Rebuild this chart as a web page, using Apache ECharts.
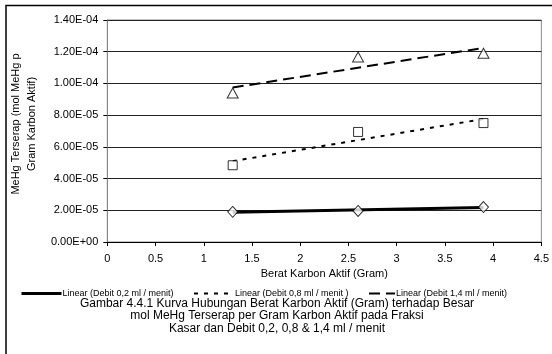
<!DOCTYPE html>
<html>
<head>
<meta charset="utf-8">
<script src="https://cdn.jsdelivr.net/npm/echarts@6/dist/echarts.min.js"></script>
<style>
  html, body { margin: 0; padding: 0; background: #fff; }
  #chart { width: 552px; height: 354px; }
</style>
</head>
<body>
<div id="chart"></div>
<script>
// Berat karbon aktif (gram)
const beratKarbon = [1.3, 2.6, 3.9];
// mol MeHg terserap per gram karbon aktif, per debit aliran
const debit02 = [1.90e-5, 1.96e-5, 2.20e-5];
const debit08 = [4.84e-5, 6.94e-5, 7.50e-5];
const debit14 = [9.40e-5, 1.167e-4, 1.19e-4];

const seriesNames = ['Debit 0,2 ml / menit', 'Debit 0,8 ml / menit', 'Debit 1,4 ml / menit'];
const trendNames = ['Linear (Debit 0,2 ml / menit)', 'Linear (Debit 0,8 ml / menit )', 'Linear (Debit 1,4 ml / menit)'];

const yTickLabels = ['0.00E+00', '2.00E-05', '4.00E-05', '6.00E-05', '8.00E-05', '1.00E-04', '1.20E-04', '1.40E-04'];
const xTickLabels = ['0', '0.5', '1', '1.5', '2', '2.5', '3', '3.5', '4', '4.5'];

const FONT = '"Liberation Sans", Arial, sans-serif';

// least-squares line through the points, drawn across the data range
function linearFit(xs, ys) {
  const n = xs.length;
  const mx = xs.reduce((a, b) => a + b, 0) / n;
  const my = ys.reduce((a, b) => a + b, 0) / n;
  let sxy = 0, sxx = 0;
  for (let i = 0; i < n; i++) {
    sxy += (xs[i] - mx) * (ys[i] - my);
    sxx += (xs[i] - mx) * (xs[i] - mx);
  }
  const b = sxy / sxx, a = my - b * mx;
  const x0 = Math.min(...xs), x1 = Math.max(...xs);
  return [[x0, a + b * x0], [x1, a + b * x1]];
}

const pts = (ys) => beratKarbon.map((x, i) => [x, ys[i]]);

const chart = echarts.init(document.getElementById('chart'), null, { renderer: 'canvas' });

const markerStyle = { color: '#fff', borderColor: '#000', borderWidth: 1 };

const trendStyles = [
  { color: '#000', width: 3, type: 'solid' },
  { color: '#000', width: 2, type: [4, 6] },
  { color: '#000', width: 2, type: [11, 6] }
];

function legendFor(i, left, iconWidth) {
  return {
    data: [trendNames[i]], left: left, top: 289, padding: 0,
    itemWidth: iconWidth, itemHeight: 10, itemGap: 0,
    itemStyle: { opacity: 0 },
    lineStyle: { type: trendStyles[i].type, width: trendStyles[i].width, color: '#000' },
    textStyle: { fontFamily: FONT, fontSize: 9, color: '#000', padding: [0, 0, 0, -4] }
  };
}

chart.setOption({
  backgroundColor: '#fff',
  animation: false,
  grid: { left: 103, right: 9, top: 20, bottom: 112, show: true, borderColor: '#888', borderWidth: 1 },
  xAxis: {
    type: 'value', min: 0, max: 4.5, interval: 0.5,
    name: 'Berat Karbon Aktif (Gram)', nameLocation: 'middle', nameGap: 24,
    nameTextStyle: { fontFamily: FONT, fontSize: 11, color: '#000' },
    axisLine: { lineStyle: { color: '#000', width: 1 } },
    axisTick: { show: true, length: 4, lineStyle: { color: '#000' } },
    axisLabel: { margin: 11, fontFamily: FONT, fontSize: 11, color: '#000',
      formatter: (v) => xTickLabels[Math.round(v / 0.5)] },
    splitLine: { show: false }
  },
  yAxis: {
    type: 'value', min: 0, max: 1.4e-4, interval: 2e-5,
    name: 'MeHg Terserap (mol MeHg p\nGram Karbon Aktif)', nameLocation: 'middle', nameRotate: 90, nameGap: 61,
    nameTextStyle: { fontFamily: FONT, fontSize: 11, color: '#000', lineHeight: 16, padding: [0, 0, 0, 14] },
    axisLine: { lineStyle: { color: '#888', width: 1 } },
    axisTick: { show: true, length: 4, lineStyle: { color: '#000' } },
    axisLabel: { margin: 9, fontFamily: FONT, fontSize: 11, color: '#000',
      formatter: (v) => yTickLabels[Math.round(v / 2e-5)] },
    splitLine: { lineStyle: { color: '#222', width: 1 } }
  },
  legend: [legendFor(0, 20, 40), legendFor(1, 193, 40), legendFor(2, 368, 26)],
  graphic: [
    { type: 'rect', silent: true, shape: { x: 6, y: 5.5, width: 600, height: 420 },
      style: { fill: 'none', stroke: '#000', lineWidth: 1.5 } },
    { type: 'text', x: 277, y: 297, silent: true,
      style: { text: 'Gambar 4.4.1 Kurva Hubungan Berat Karbon Aktif (Gram) terhadap Besar\nmol MeHg Terserap per Gram Karbon Aktif pada Fraksi\nKasar dan Debit 0,2, 0,8 & 1,4 ml / menit',
        fontFamily: FONT, fontSize: 12, lineHeight: 12.6, fill: '#000', align: 'center', verticalAlign: 'top' } }
  ],
  series: [
    { name: trendNames[0], type: 'line', data: linearFit(beratKarbon, debit02), symbol: 'none',
      lineStyle: trendStyles[0], itemStyle: { color: '#000' }, z: 2 },
    { name: trendNames[1], type: 'line', data: linearFit(beratKarbon, debit08), symbol: 'none',
      lineStyle: trendStyles[1], itemStyle: { color: '#000' }, z: 2 },
    { name: trendNames[2], type: 'line', data: linearFit(beratKarbon, debit14), symbol: 'none',
      lineStyle: trendStyles[2], itemStyle: { color: '#000' }, z: 2 },
    { name: seriesNames[0], type: 'scatter', data: pts(debit02), symbol: 'diamond', symbolSize: [10, 11],
      itemStyle: markerStyle, z: 3 },
    { name: seriesNames[1], type: 'scatter', data: pts(debit08), symbol: 'rect', symbolSize: 9,
      itemStyle: markerStyle, z: 3 },
    { name: seriesNames[2], type: 'scatter', data: pts(debit14), symbol: 'triangle', symbolSize: [11, 10],
      itemStyle: markerStyle, z: 3 }
  ]
});
</script>
</body>
</html>
